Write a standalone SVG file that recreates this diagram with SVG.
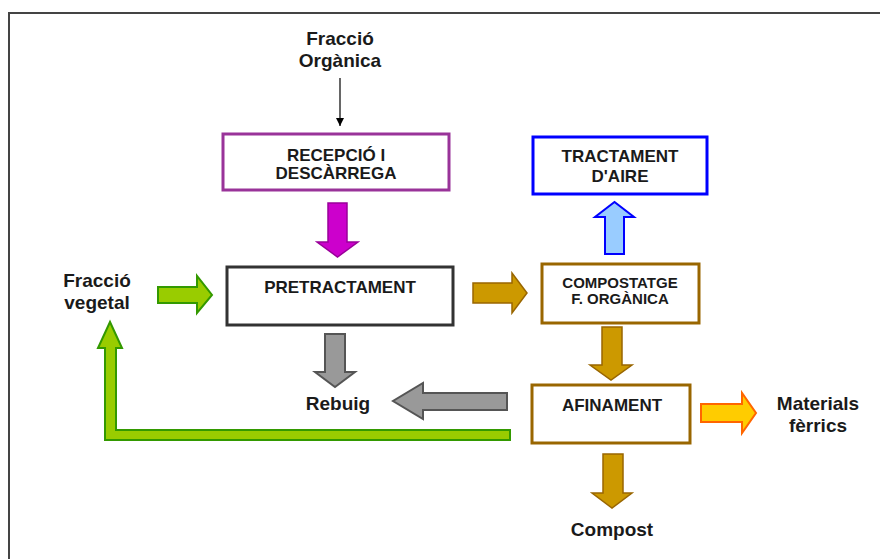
<svg xmlns="http://www.w3.org/2000/svg" width="880" height="559" viewBox="0 0 880 559">
<style>
  .lbl { font-family: "Liberation Sans", Arial, sans-serif; font-weight: bold; font-size: 19px; fill: #1a1a1a; text-anchor: middle; }
  .box { font-family: "Liberation Sans", Arial, sans-serif; font-weight: bold; font-size: 17px; fill: #1a1a1a; text-anchor: middle; }
  .sm { font-size: 15px; }
  .node rect { fill: #ffffff; stroke-width: 3; }
  .green { fill: #99cc00; stroke: #339900; stroke-width: 2; stroke-linejoin: miter; }
  .gold { fill: #cc9900; stroke: #996600; stroke-width: 1.5; }
  .gray { fill: #999999; stroke: #555555; stroke-width: 2; }
</style>
<defs>
  <marker id="ah" markerWidth="10" markerHeight="10" refX="8" refY="5" orient="auto" markerUnits="userSpaceOnUse">
    <path d="M0,1 L8,5 L0,9 Z" fill="#000"/>
  </marker>
</defs>
<rect x="0" y="0" width="880" height="559" fill="#ffffff"/>
<path d="M9,570 L9,13 L890,13" fill="none" stroke="#444444" stroke-width="2"/>

<g id="fraccio-organica">
  <text class="lbl" x="340" y="45">Fracció</text>
  <text class="lbl" x="340" y="67">Orgànica</text>
</g>
<g id="fraccio-vegetal">
  <text class="lbl" x="97" y="287">Fracció</text>
  <text class="lbl" x="97" y="309">vegetal</text>
</g>
<g id="rebuig"><text class="lbl" x="338" y="410">Rebuig</text></g>
<g id="materials">
  <text class="lbl" x="818" y="410">Materials</text>
  <text class="lbl" x="818" y="432">fèrrics</text>
</g>
<g id="compost"><text class="lbl" x="612" y="536">Compost</text></g>

<g id="recepcio" class="node">
  <rect x="223" y="134" width="226" height="56" stroke="#993399"/>
  <text class="box" x="336" y="161">RECEPCIÓ I</text>
  <text class="box" x="336" y="179">DESCÀRREGA</text>
</g>
<g id="pretractament" class="node">
  <rect x="227" y="267" width="226" height="58" stroke="#333333"/>
  <text class="box" x="340" y="293">PRETRACTAMENT</text>
</g>
<g id="tractament-aire" class="node">
  <rect x="533" y="137" width="174" height="57" stroke="#0000ff"/>
  <text class="box" x="620" y="162">TRACTAMENT</text>
  <text class="box" x="620" y="182">D'AIRE</text>
</g>
<g id="compostatge" class="node">
  <rect x="542" y="264" width="157" height="59" stroke="#996600"/>
  <text class="box sm" x="620" y="288">COMPOSTATGE</text>
  <text class="box sm" x="620" y="304">F. ORGÀNICA</text>
</g>
<g id="afinament" class="node">
  <rect x="532" y="385" width="158" height="58" stroke="#996600"/>
  <text class="box" x="612" y="411">AFINAMENT</text>
</g>

<g id="connectors">
  <line x1="340" y1="78" x2="340" y2="126" stroke="#000" stroke-width="1.2" marker-end="url(#ah)"/>
  <!-- magenta down -->
  <path d="M328,203 L347,203 L347,242 L358,242 L337.5,257 L317,242 L328,242 Z" fill="#cc00cc" stroke="#990099" stroke-width="1.5"/>
  <!-- green right -->
  <path class="green" d="M158,287 L197,287 L197,276 L212,295 L197,313 L197,303 L158,303 Z"/>
  <!-- gold right -->
  <path class="gold" d="M473,283 L512,283 L512,273 L527,293 L512,313 L512,303 L473,303 Z"/>
  <!-- blue up -->
  <path d="M605,254 L605,217 L595,217 L614.5,202 L634,217 L624,217 L624,254 Z" fill="#99ccff" stroke="#0000ff" stroke-width="2"/>
  <!-- gray down -->
  <path class="gray" d="M325,334 L345,334 L345,372 L355,372 L335,387 L315,372 L325,372 Z"/>
  <!-- gold down to afinament -->
  <path class="gold" d="M602,327 L622,327 L622,365 L632,365 L611,380 L590,365 L602,365 Z"/>
  <!-- gray left -->
  <path class="gray" d="M507,393 L423,393 L423,383 L393,401 L423,419 L423,410 L507,410 Z"/>
  <!-- green L feedback -->
  <path class="green" d="M510,430 L510,440 L105,440 L105,348 L98,348 L110,322 L122,348 L116,348 L116,430 Z"/>
  <!-- orange right -->
  <path d="M701,404 L742,404 L742,393 L756,413 L742,433 L742,422 L701,422 Z" fill="#ffcc00" stroke="#ff6600" stroke-width="2"/>
  <!-- gold down to compost -->
  <path class="gold" d="M603,454 L623,454 L623,493 L632,493 L612,508 L592,493 L603,493 Z"/>
</g>
</svg>
